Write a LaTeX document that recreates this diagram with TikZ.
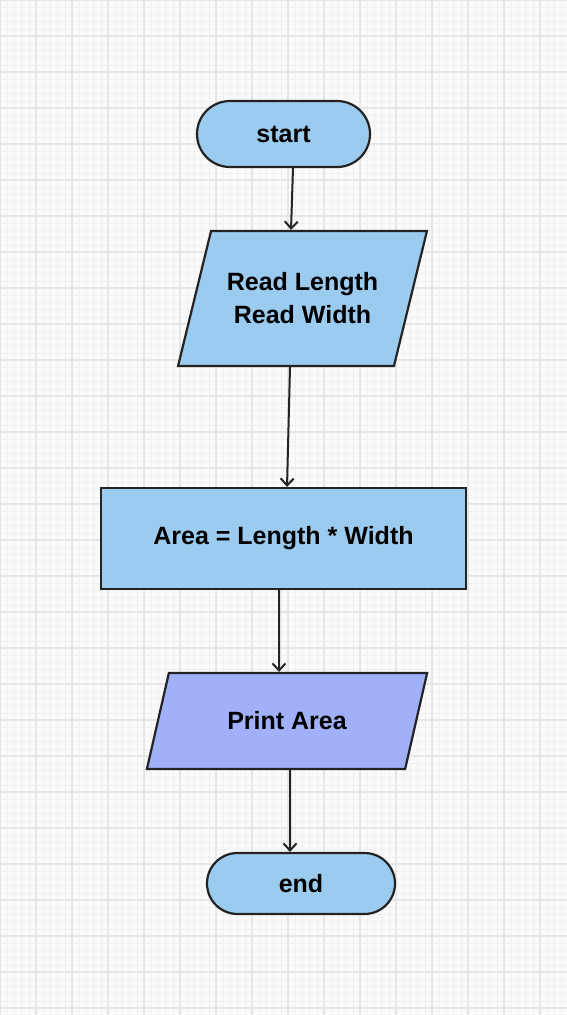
\documentclass[tikz,border=0pt]{standalone}
\usepackage{fontspec}
\newfontfamily\flowfont{Liberation Sans}
\usetikzlibrary{shapes.geometric,arrows.meta}
\definecolor{boxblue}{HTML}{9BCBEF}
\definecolor{printblue}{HTML}{A0B0F9}
\definecolor{edgegray}{HTML}{232323}
\definecolor{paper}{HTML}{FAFAFA}
\definecolor{minorline}{HTML}{F0F0F0}
\definecolor{majorline}{HTML}{E6E6E6}

\begin{document}
\begin{tikzpicture}[x=1pt, y=-1pt, font=\flowfont\bfseries\fontsize{25}{33}\selectfont]
  \tikzset{
    box/.style={draw=edgegray, line width=2.2pt, fill=boxblue, align=center, inner sep=0pt},
    term/.style={box, rounded corners=#1},
    io/.style={box, trapezium, trapezium stretches=true,
               trapezium left angle=#1, trapezium right angle=180-#1},
    arr/.style={draw=edgegray, line width=2pt, -{Straight Barb[length=7pt,width=13pt,line width=2pt]}}
  }

  % Achtergrond
  \useasboundingbox (0,0) rectangle (567,1015);
  \fill[paper] (0,0) rectangle (567,1015);
  \draw[minorline, line width=0.5pt, step=7.2pt] (0,0) grid (567,1015);
  \draw[majorline, line width=1.5pt, step=36pt] (0,0) grid (567,1015);

  % Knopen
  \node[term=33pt, minimum width=173pt, minimum height=66pt] (start) at (283.5,134) {start};
  \node[io=62, minimum width=249pt, minimum height=135pt] (read) at (302.5,298.5) {Read Length\\Read Width};
  \node[box, minimum width=365pt, minimum height=101pt] (area) at (283.5,538.5) {Area = Length * Width};
  \node[io=58.8, fill=printblue, minimum width=280.5pt, minimum height=96pt] (print) at (287,721) {Print Area};
  \node[term=30.5pt, minimum width=188pt, minimum height=61pt] (end) at (301,883.5) {end};

  % Pijlen
  \draw[arr] ([xshift=9.5pt]start.south) -- ([xshift=-11.5pt]read.north);
  \draw[arr] ([xshift=-12.5pt]read.south) -- ([xshift=3.5pt]area.north);
  \draw[arr] ([xshift=-4.5pt]area.south) -- ([xshift=-8pt]print.north);
  \draw[arr] ([xshift=3pt]print.south) -- ([xshift=-11pt]end.north);
\end{tikzpicture}
\end{document}
